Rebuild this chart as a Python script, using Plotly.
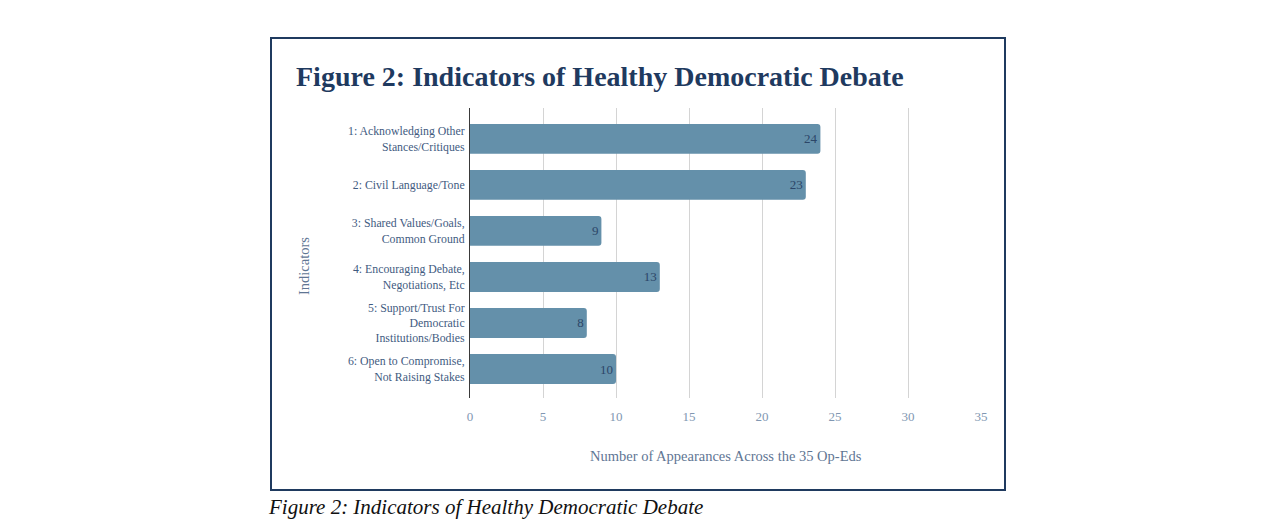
import plotly.graph_objects as go

categories = [
    "1: Acknowledging Other<br>Stances/Critiques",
    "2: Civil Language/Tone",
    "3: Shared Values/Goals,<br>Common Ground",
    "4: Encouraging Debate,<br>Negotiations, Etc",
    "5: Support/Trust For<br>Democratic<br>Institutions/Bodies",
    "6: Open to Compromise,<br>Not Raising Stakes",
]
values = [24, 23, 9, 13, 8, 10]
x_ticks = [0, 5, 10, 15, 20, 25, 30, 35]

title_text = "Figure 2: Indicators of Healthy Democratic Debate"
caption_text = "Figure 2: Indicators of Healthy Democratic Debate"
x_title = "Number of Appearances Across the 35 Op-Eds"
y_title = "Indicators"

OFF = 8  # page body margin
W, H = 1278 - 2 * OFF, 528 - 2 * OFF
# plot area in window pixels
L, R, T, B = 470, 981, 108, 398

def px(x):
    return (x - L) / (R - L)

def py(y):
    return (B - y) / (B - T)

serif = "Liberation Serif, Times New Roman, serif"

fig = go.Figure()
fig.add_trace(go.Bar(
    y=list(range(len(categories))),
    x=values,
    orientation="h",
    width=0.65,
    marker=dict(color="#6490aa", cornerradius=3, line=dict(width=0)),
    text=[str(v) for v in values],
    textposition="inside",
    insidetextanchor="end",
    textfont=dict(family=serif, size=13, color="#2c4668"),
    hoverinfo="skip",
))

fig.update_layout(
    width=W, height=H, autosize=False,
    margin=dict(l=L - OFF, r=W + OFF - R, t=T - OFF, b=H + OFF - B, pad=0),
    paper_bgcolor="white", plot_bgcolor="white",
    showlegend=False,
    font=dict(family=serif),
)

fig.update_xaxes(
    range=[0, 35], tickvals=x_ticks, ticktext=[str(t) for t in x_ticks],
    showgrid=True, gridcolor="#d4d4d4", gridwidth=1,
    zeroline=False, showline=False, ticks="",
    tickfont=dict(family=serif, size=13, color="#8197b2"),
    ticklabelstandoff=9,
)
fig.update_yaxes(
    range=[5.63, -0.67],
    tickvals=list(range(len(categories))), ticktext=categories,
    showgrid=False, zeroline=False,
    showline=True, linecolor="#3a3a3a", linewidth=1,
    ticks="", tickfont=dict(family=serif, size=11.8, color="#3f5b7f"),
    ticklabelstandoff=2,
)

# Border
fig.add_shape(type="rect", xref="paper", yref="paper",
              x0=px(271), x1=px(1005), y0=py(490), y1=py(38),
              line=dict(color="#1f3a5f", width=2), fillcolor="rgba(0,0,0,0)", layer="below")

ann = []
ann.append(dict(text="<b>" + title_text + "</b>", x=px(294), y=py(77), xanchor="left", yanchor="middle",
                font=dict(family=serif, size=28, color="#1f3a5f")))
ann.append(dict(text=x_title, x=px(726), y=py(456), xanchor="center", yanchor="middle",
                font=dict(family=serif, size=14.5, color="#5f7694")))
ann.append(dict(text=y_title, x=px(304), y=py(266), xanchor="center", yanchor="middle", textangle=-90,
                font=dict(family=serif, size=14.5, color="#5f7694")))
ann.append(dict(text="<i>" + caption_text + "</i>", x=px(266), y=py(507), xanchor="left", yanchor="middle",
                font=dict(family=serif, size=21, color="#111111")))
for a in ann:
    a.update(xref="paper", yref="paper", showarrow=False)
fig.update_layout(annotations=ann)

fig.write_html("out.html")
